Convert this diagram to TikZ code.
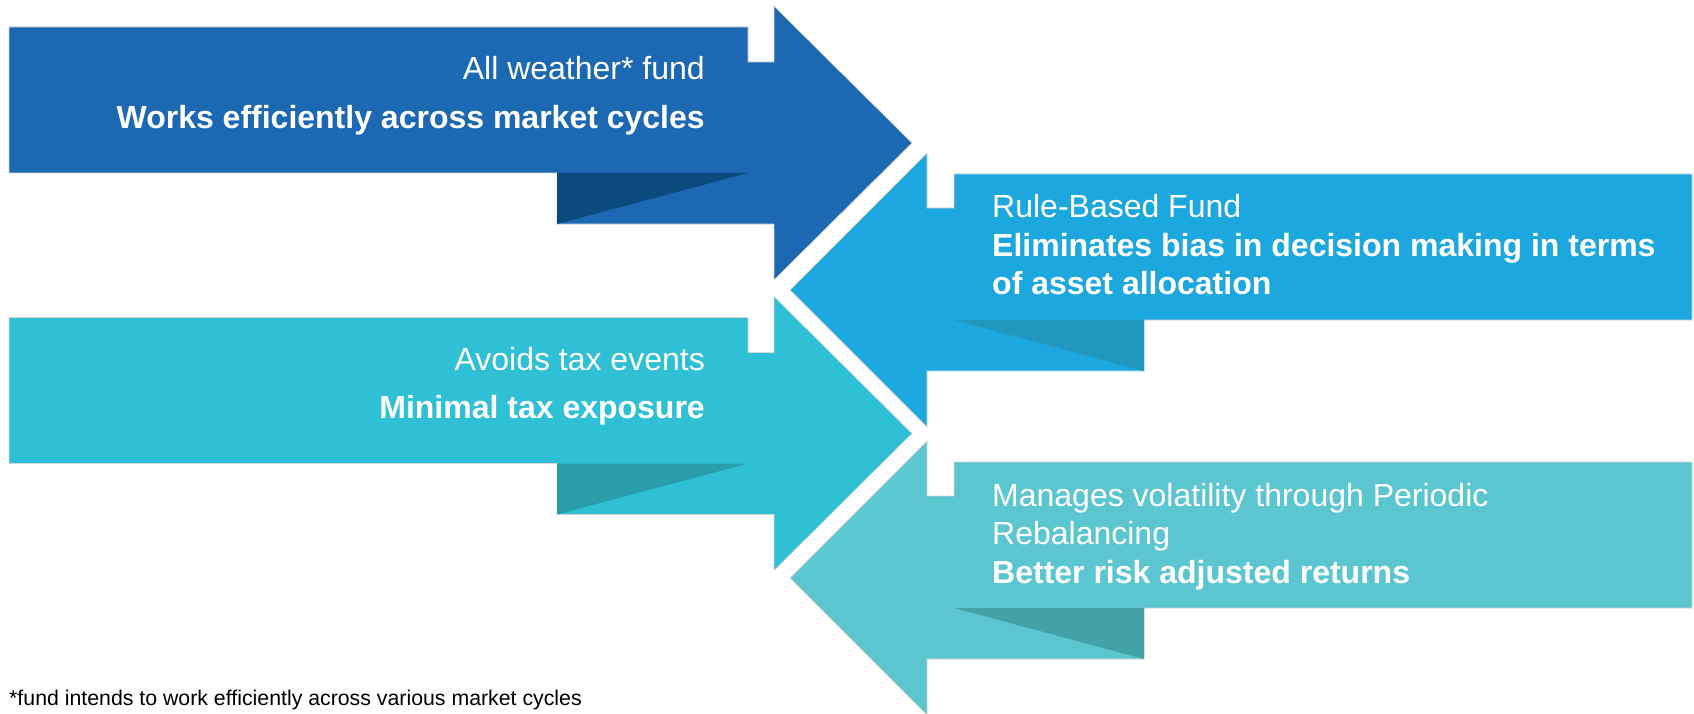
\documentclass[tikz,border=0pt]{standalone}
\usepackage{fontspec}
\setmainfont{Liberation Sans}
\definecolor{navyA}{HTML}{1D68B2}
\definecolor{navyF}{HTML}{0C4A7D}
\definecolor{skyA}{HTML}{1CA7DE}
\definecolor{skyF}{HTML}{2197C0}
\definecolor{cyanA}{HTML}{2FC0D6}
\definecolor{cyanF}{HTML}{299DAA}
\definecolor{tealA}{HTML}{5BC6D0}
\definecolor{tealF}{HTML}{43A2A8}
\begin{document}
\begin{tikzpicture}[x=1pt,y=-1pt,
  edge/.style={draw=black!16, line width=0.7pt, line join=miter},
  lbl/.style={text=white, inner sep=0pt, font=\fontsize{32}{38}\selectfont},
  lblb/.style={lbl, font=\fontsize{32}{38}\selectfont\bfseries},
  note/.style={text=black, inner sep=0pt, font=\fontsize{21.3}{25}\selectfont},
  % ribbon arrow pointing right: banner in front, arrow shaft and head behind
  pics/rightribbon/.style 2 args={code={
    \fill[#1, edge] (9,27) -- (748,27) -- (748,62) -- (774,62) -- (774,6)
      -- (912,143) -- (774,280) -- (774,224) -- (557,224) -- (557,173)
      -- (9,173) -- cycle;
    \fill[#2] (557,173) -- (748,173) -- (557,224) -- cycle;
  }},
  % ribbon arrow pointing left
  pics/leftribbon/.style 2 args={code={
    \fill[#1, edge] (1692,174) -- (954,174) -- (954,208) -- (927,208) -- (927,153)
      -- (790,290) -- (927,427) -- (927,371) -- (1144,371) -- (1144,320)
      -- (1692,320) -- cycle;
    \fill[#2] (954,320) -- (1144,320) -- (1144,371) -- cycle;
  }}]
\useasboundingbox (0,0) rectangle (1694,714);

\pic (weather) at (0,0) {rightribbon={navyA}{navyF}};
\pic (rule) at (0,0) {leftribbon={skyA}{skyF}};
\pic (tax) at (0,290.5) {rightribbon={cyanA}{cyanF}};
\pic (vol) at (0,288) {leftribbon={tealA}{tealF}};

% banner texts
\node[lbl, anchor=base east] (t1a) at (705,80) {All weather* fund};
\node[lblb, anchor=base east] (t1b) at (705,129) {Works efficiently across market cycles};

\node[lbl, anchor=base west] (t2a) at (992,218) {Rule-Based Fund};
\node[lblb, anchor=base west] (t2b) at (992,256.5) {Eliminates bias in decision making in terms};
\node[lblb, anchor=base west] (t2c) at (992,294.5) {of asset allocation};

\node[lbl, anchor=base east] (t3a) at (705,370.5) {Avoids tax events};
\node[lblb, anchor=base east] (t3b) at (705,418.5) {Minimal tax exposure};

\node[lbl, anchor=base west] (t4a) at (992,506) {Manages volatility through Periodic};
\node[lbl, anchor=base west] (t4b) at (992,544.5) {Rebalancing};
\node[lblb, anchor=base west] (t4c) at (992,583) {Better risk adjusted returns};

\node[note, anchor=base west] (foot) at (9,705) {*fund intends to work efficiently across various market cycles};
\end{tikzpicture}
\end{document}
